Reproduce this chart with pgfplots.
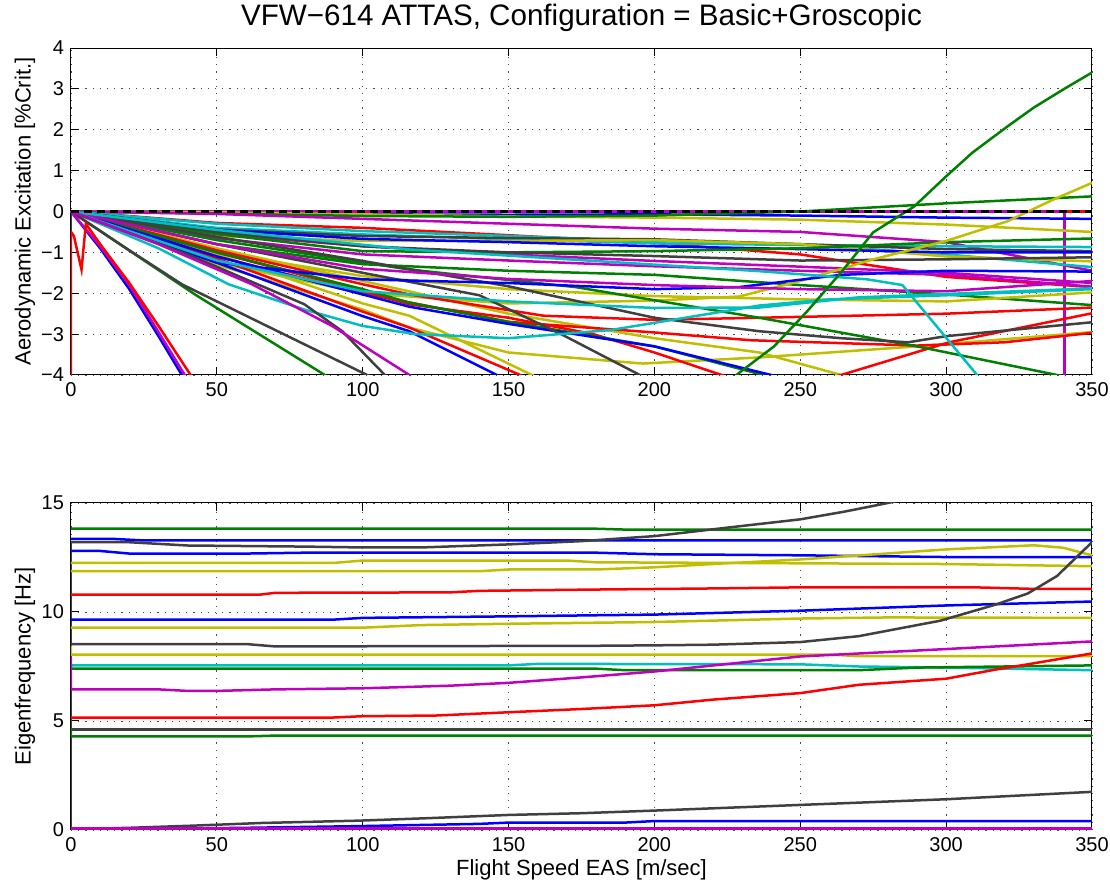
\documentclass[border=0pt]{standalone}
\usepackage{fontspec}
\setmainfont{Liberation Sans}
\usepackage{pgfplots}
\pgfplotsset{compat=1.18}

% MATLAB default line colours
\definecolor{mb}{rgb}{0,0,1}
\definecolor{mg}{rgb}{0,0.5,0}
\definecolor{mr}{rgb}{1,0,0}
\definecolor{mc}{rgb}{0,0.75,0.75}
\definecolor{mm}{rgb}{0.75,0,0.75}
\definecolor{my}{rgb}{0.75,0.75,0}
\definecolor{mk}{rgb}{0.25,0.25,0.25}

\pgfplotsset{
  matax/.style={
    width=510.5pt, height=163.5pt, scale only axis,
    xmin=0, xmax=350, xtick={0,50,...,350},
    grid=major,
    major grid style={black!70, line width=0.4pt, dash pattern=on 0.6pt off 3pt},
    tick align=inside, major tick length=4pt,
    axis line style={line width=0.5pt},
    tick style={black, line width=0.5pt},
    ticklabel style={font=\fontsize{10}{12}\selectfont},
    label style={font=\fontsize{11}{13}\selectfont},
    /pgf/number format/assume math mode=true,
    every axis plot/.append style={line width=1.25pt},
  },
  B/.style={mb}, G/.style={mg}, R/.style={mr}, C/.style={mc},
  M/.style={mm}, Y/.style={my}, K/.style={mk},
}

\begin{document}
\begin{tikzpicture}

% ---------------- upper panel ----------------
\begin{axis}[matax,
    ymin=-4, ymax=4, ytick={-4,-3,...,4},
    yticklabels={−4,−3,−2,−1,0,1,2,3,4},
    title={VFW−614 ATTAS, Configuration = Basic+Groscopic},
    title style={font=\fontsize{14.8}{17}\selectfont, at={(axis description cs:0.5,1.055)}, anchor=center},
    ylabel={Aerodynamic Excitation [\%Crit.]},
    ylabel style={at={(axis description cs:-0.045,0.5)}, anchor=center},
]
\addplot[M] coordinates {(0,0)(340.5,0)(340.5,-4.5)};
\addplot[R] coordinates {(340.5,0)(350,0)};
\addplot[K] coordinates {(0,0)(0,-4)};
\addplot[B] coordinates {(0,0)(50,-0.03)(100,-0.07)(150,-0.08)(200,-0.07)(250,-0.1)(300,-0.15)(350,-0.18)};
\addplot[Y] coordinates {(0,0)(50,-0.02)(100,-0.07)(150,-0.12)(200,-0.15)(250,-0.2)(300,-0.32)(350,-0.5)};
\addplot[G] coordinates {(0,0)(50,-0.05)(100,-0.11)(150,-0.13)(200,-0.1)(250,0)(300,0.2)(350,0.37)};
\addplot[M] coordinates {(0,0)(50,-0.06)(100,-0.18)(150,-0.3)(200,-0.42)(250,-0.5)(300,-0.75)(350,-1.45)};
\addplot[R] coordinates {(0,0)(50,-0.28)(100,-0.4)(150,-0.58)(200,-0.77)(250,-1.05)(300,-1.6)(350,-1.85)};
\addplot[C] coordinates {(0,0)(50,-0.3)(100,-0.48)(150,-0.6)(200,-0.72)(250,-0.8)(300,-1.05)(350,-1.36)};
\addplot[C] coordinates {(0,0)(50,-0.4)(100,-0.56)(150,-0.68)(200,-0.78)(250,-0.82)(300,-0.85)(350,-0.87)};
\addplot[K] coordinates {(0,0)(50,-0.44)(100,-0.6)(150,-0.65)(200,-0.68)(250,-0.8)(300,-0.92)(350,-0.97)};
\addplot[Y] coordinates {(0,0)(50,-0.6)(100,-0.72)(150,-0.72)(200,-0.7)(250,-0.8)(300,-1.1)(350,-1.22)};
\addplot[M] coordinates {(0,0)(50,-0.55)(100,-0.85)(150,-1.05)(200,-1.21)(250,-1.35)(300,-1.5)(350,-1.75)};
\addplot[B] coordinates {(0,0)(50,-0.45)(100,-0.67)(150,-0.75)(200,-0.85)(250,-0.92)(300,-1.0)(350,-1.0)};
\addplot[G] coordinates {(0,0)(50,-0.55)(100,-0.97)(150,-1.0)(200,-0.97)(250,-0.9)(300,-0.75)(350,-0.66)};
\addplot[M] coordinates {(0,0)(50,-0.65)(100,-1.05)(150,-1.2)(200,-1.34)(250,-1.45)(300,-1.55)(350,-1.84)};
\addplot[K] coordinates {(0,0)(50,-0.5)(100,-0.85)(150,-1.0)(200,-1.09)(250,-1.2)(300,-1.17)(350,-1.12)};
\addplot[G] coordinates {(0,0)(50,-0.8)(100,-1.29)(150,-1.45)(200,-1.55)(250,-1.8)(300,-2.03)(350,-2.29)};
\addplot[Y] coordinates {(0,0)(50,-1.25)(100,-2.0)(150,-2.25)(200,-2.18)(229,-2.08)(250,-1.7)(275,-1.17)(300,-0.72)(321,-0.24)(337,0.3)(350,0.7)};
\addplot[Y] coordinates {(0,0)(50,-1.0)(100,-1.58)(150,-1.9)(200,-2.07)(250,-2.15)(300,-2.2)(350,-1.98)};
\addplot[Y] coordinates {(0,0)(50,-1.3)(100,-2.4)(116,-2.84)(150,-3.45)(196,-3.72)(236,-3.57)(290,-3.3)(350,-2.95)};
\addplot[Y] coordinates {(0,0)(50,-0.9)(100,-1.7)(150,-2.5)(200,-3.1)(236,-3.45)(264,-4)(280,-4.3)};
\addplot[Y] coordinates {(0,0)(50,-1.05)(100,-2.25)(116,-2.55)(158,-4)(170,-4.4)};
\addplot[R] coordinates {(0,0)(50,-0.95)(100,-1.78)(116,-2.03)(162,-2.55)(200,-2.65)(236,-2.6)(300,-2.5)(350,-2.35)};
\addplot[R] coordinates {(0,0)(50,-1.1)(100,-2.0)(150,-2.7)(200,-2.96)(233,-3.15)(290,-3.28)(320,-3.2)(350,-2.97)};
\addplot[R] coordinates {(0,0)(50,-1.0)(100,-1.95)(116,-2.27)(150,-2.6)(179,-3.0)(200,-3.45)(223,-4)(243,-4.4)(264,-4)(301,-3.2)(350,-2.49)};
\addplot[R] coordinates {(0,0)(50,-1.15)(100,-2.45)(116,-2.84)(154,-4)(165,-4.4)};
\addplot[B] coordinates {(0,0)(50,-1.25)(100,-2.56)(116,-2.93)(146,-4)(155,-4.4)};
\addplot[G] coordinates {(0,0)(50,-1.0)(100,-1.9)(116,-2.23)(150,-2.7)(200,-3.3)(240,-4.05)(250,-4.3)};
\addplot[B] coordinates {(0,0)(50,-1.1)(100,-2.03)(116,-2.33)(150,-2.75)(200,-3.3)(240,-4)(250,-4.2)};
\addplot[G] coordinates {(0,0)(50,-0.7)(116,-1.42)(173,-1.85)(236,-2.6)(290,-3.3)(338,-4)(345,-4.1)};
\addplot[K] coordinates {(0,0)(50,-0.8)(100,-1.5)(140,-2.05)(168,-3.0)(195,-4)(200,-4.2)};
\addplot[K] coordinates {(0,0)(50,-0.62)(100,-1.21)(150,-1.83)(200,-2.6)(236,-2.93)(264,-3.1)(287,-3.2)(300,-3.05)(350,-2.71)};
\addplot[B] coordinates {(0,0)(50,-1.25)(100,-1.66)(150,-1.75)(200,-1.9)(229,-1.85)(264,-1.55)(300,-1.45)(350,-1.47)};
\addplot[M] coordinates {(0,0)(50,-0.8)(100,-1.4)(150,-1.65)(200,-1.8)(250,-1.9)(300,-1.95)(350,-1.7)};
\addplot[C] coordinates {(0,0)(30,-0.9)(54,-1.78)(80,-2.4)(100,-2.8)(118,-3.0)(150,-3.1)(185,-2.9)(219,-2.5)(236,-2.3)(260,-2.15)(300,-2.05)(350,-1.9)};
\addplot[C] coordinates {(0,0)(50,-0.45)(116,-0.93)(200,-1.3)(236,-1.46)(273,-1.66)(285,-1.8)(310.6,-4)(315,-4.3)};
\addplot[C] coordinates {(0,0)(50,-1.2)(100,-1.95)(150,-2.2)(200,-2.36)(236,-2.35)(270,-2.1)(350,-1.88)};
\addplot[G] coordinates {(0,0)(42.5,-2.03)(87,-4)(90,-4.15)};
\addplot[K] coordinates {(0,0)(20,-0.95)(38,-1.78)(70,-2.9)(101.5,-4)(105,-4.1)};
\addplot[K] coordinates {(0,0)(40,-1.05)(80,-2.27)(93,-2.93)(107.6,-4)(110,-4.15)};
\addplot[M] coordinates {(0,0)(30,-0.8)(62,-1.78)(89.5,-2.8)(116,-4)(120,-4.2)};
\addplot[B] coordinates {(0,0)(10,-0.9)(20,-1.9)(30,-3.05)(38,-4)(40,-4.25)};
\addplot[M] coordinates {(0,0)(10,-0.85)(20,-1.8)(30,-2.95)(39,-4)(41,-4.25)};
\addplot[R] coordinates {(0,-4)(0,-0.5)(1,-0.6)(3.6,-1.42)(5.1,-0.3)(10,-0.8)(20,-1.75)(30,-2.8)(41,-4)(43,-4.25)};
\addplot[G] coordinates {(220,-4.5)(229,-3.95)(241,-3.3)(252,-2.47)(264,-1.49)(275,-0.51)(289,0.12)(300,0.86)(309,1.44)(321,2.08)(330,2.54)(340,2.98)(350,3.4)};
\addplot[black, dash pattern=on 4pt off 2.5pt] coordinates {(0,0)(350,0)};
\end{axis}

% ---------------- lower panel ----------------
\begin{axis}[matax, at={(0,-227.5pt)},
    ymin=0, ymax=15, ytick={0,5,10,15},
    xlabel={Flight Speed EAS [m/sec]},
    xlabel style={at={(axis description cs:0.5,-0.1227)}, anchor=center},
    ylabel={Eigenfrequency [Hz]},
    ylabel style={at={(axis description cs:-0.045,0.5)}, anchor=center},
]
\addplot[K] coordinates {(0,0)(0,13.2)};
\addplot[G] coordinates {(0,13.82)(180,13.82)(190,13.78)(350,13.78)};
\addplot[B] coordinates {(0,13.35)(15,13.35)(25,13.28)(350,13.28)};
\addplot[K] coordinates {(0,13.2)(20,13.2)(40,13.05)(80,13.0)(100,12.96)(120,12.96)(150,13.1)(175,13.25)(200,13.48)(225,13.87)(250,14.25)(265,14.6)(280,15.0)(290,15.3)};
\addplot[B] coordinates {(0,12.8)(10,12.8)(20,12.68)(60,12.68)(80,12.72)(180,12.72)(200,12.65)(250,12.6)(300,12.52)(350,12.52)};
\addplot[Y] coordinates {(0,12.25)(90,12.25)(100,12.36)(170,12.36)(180,12.28)(300,12.2)(350,12.1)};
\addplot[Y] coordinates {(0,11.87)(140,11.87)(150,11.95)(180,11.95)(200,12.05)(220,12.2)(250,12.41)(300,12.87)(330,13.06)(340,12.95)(350,12.6)};
\addplot[R] coordinates {(0,10.8)(65,10.8)(70,10.88)(130,10.9)(140,10.97)(180,11.03)(220,11.08)(250,11.13)(310,11.13)(330,11.06)(350,11.06)};
\addplot[B] coordinates {(0,9.65)(90,9.65)(100,9.73)(150,9.8)(180,9.85)(200,9.88)(250,10.06)(300,10.3)(350,10.48)};
\addplot[Y] coordinates {(0,9.28)(100,9.28)(120,9.4)(150,9.46)(200,9.54)(250,9.7)(280,9.75)(350,9.73)};
\addplot[K] coordinates {(0,8.53)(60,8.53)(70,8.42)(180,8.45)(200,8.47)(220,8.5)(250,8.62)(270,8.89)(298,9.6)(317,10.34)(328,10.85)(338,11.65)(350,13.2)};
\addplot[Y] coordinates {(0,8.45)(0,8.05)(260,8.05)(270,7.97)(350,7.97)};
\addplot[C] coordinates {(0,7.55)(150,7.55)(160,7.62)(250,7.6)(270,7.5)(300,7.45)(350,7.33)};
\addplot[G] coordinates {(0,7.4)(180,7.4)(190,7.33)(270,7.33)(290,7.45)(350,7.55)};
\addplot[M] coordinates {(0,7.95)(0,6.45)(30,6.45)(40,6.38)(50,6.38)(70,6.45)(100,6.5)(130,6.62)(150,6.75)(175,7.0)(200,7.27)(250,7.96)(300,8.3)(350,8.65)};
\addplot[R] coordinates {(0,5.16)(90,5.16)(100,5.22)(125,5.25)(150,5.4)(175,5.55)(200,5.72)(220,5.98)(250,6.28)(270,6.66)(300,6.94)(317,7.36)(328,7.6)(350,8.1)};
\addplot[K] coordinates {(0,4.62)(350,4.62)};
\addplot[G] coordinates {(0,4.7)(0,4.29)(60,4.29)(70,4.33)(350,4.33)};
\addplot[K] coordinates {(0,0.03)(20,0.1)(42,0.2)(65,0.32)(99,0.43)(122,0.54)(150,0.69)(175,0.77)(200,0.89)(250,1.15)(300,1.41)(350,1.75)};
\addplot[B] coordinates {(0,0.05)(40,0.07)(60,0.1)(100,0.18)(140,0.28)(150,0.34)(190,0.34)(200,0.41)(350,0.41)};
\addplot[M] coordinates {(0,0.06)(350,0.06)};
\end{axis}

\pgfresetboundingbox
\path[use as bounding box] (-35.5pt,-253pt) rectangle (519.5pt,187.5pt);
\end{tikzpicture}
\end{document}
